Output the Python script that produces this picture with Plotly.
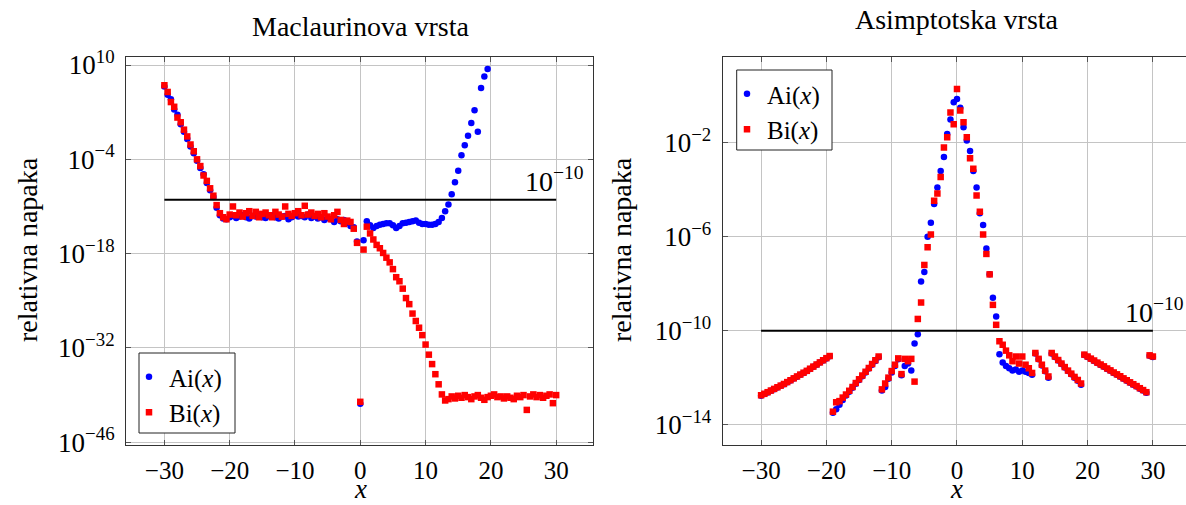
import numpy as np
import plotly.graph_objects as go

# shared sample grid (x from -30 to 30, step 0.5)
x_grid = np.linspace(-30, 30, 121)

# ---------- Maclaurinova vrsta : log10(relative error) ----------
mac_ai_log = [
    6.8, 5.6, 4.9, 3.4, 2.6, 1.2, 0.1, -1.0, -2.1, -3.1, -4.2, -5.3, -6.2, -7.5, -8.6, -9.6,
    -11.2, -12.3, -12.8, -12.9, -12.6, -12.4, -12.7, -12.5, -12.3, -12.6, -12.8, -12.4, -12.5,
    -12.2, -12.6, -12.7, -12.4, -12.3, -12.6, -12.8, -12.5, -12.4, -12.9, -12.6, -12.3, -12.5,
    -12.4, -12.6, -12.2, -12.7, -12.5, -12.8, -12.6, -13.0, -12.7, -12.9, -13.3, -12.9, -13.2,
    -13.0, -13.4, -13.9, -14.1, -16.2, -40.3, -16.0, -13.2, -13.8, -14.2, -13.9, -13.7,
    -13.6, -13.5, -13.5, -13.8, -14.2, -13.9, -13.5, -13.4, -13.3, -13.2, -13.1, -13.4, -13.6,
    -13.6, -13.7, -13.7, -13.6, -13.3,
    -12.7, -11.7, -10.7, -9.2, -7.4, -5.7, -3.4, -1.9, -0.5, 1.4, 3.3, 0.1, 6.6, 8.3, 9.4,
    None, None, None, None, None, None, None, None, None, None, None,
    None, None, None, None, None, None, None, None, None, None,
]
mac_bi_log = [
    7.0, 6.0, 4.5, 3.8, 2.2, 1.5, 0.4, -0.6, -1.8, -2.8, -4.0, -5.0, -6.4, -7.2, -8.3, -9.4,
    -10.8, -12.0, -12.6, -12.9, -12.2, -11.0, -12.3, -11.9, -12.5, -12.0, -11.7, -12.4, -11.8,
    -12.6, -12.1, -11.9, -12.3, -12.6, -11.8, -12.2, -12.5, -11.0, -12.1, -12.4, -12.0, -11.7,
    -12.3, -10.9, -12.2, -11.9, -12.4, -12.1, -12.6, -12.0, -12.5, -12.9, -12.3, -11.8, -13.0,
    -13.6, -13.1, -13.3, -14.3, -16.4, -40.0, -17.4, -14.0, -15.0, -15.9, -16.7, -17.2,
    -17.9, -18.6, -19.3, -20.3, -21.5, -22.1, -23.2, -24.6, -25.5, -26.9, -28.0, -29.0, -30.1,
    -31.5, -33.0, -34.4, -35.9, -37.4, -38.9, -39.8,
    -39.6, -39.2, -39.5, -39.1, -39.4, -39.0, -39.3, -39.6, -39.2, -39.0, -39.4, -39.7, -39.3,
    -39.1, -38.9, -39.3, -39.2, -39.5, -39.2, -39.4, -39.6, -39.1, -39.3, -39.0, -41.2, -39.2,
    -38.9, -39.3, -39.0, -39.4, -39.1, -38.9, -40.2, -39.0,
]

# ---------- Asimptotska vrsta : log10(relative error) ----------
asy_ai_log = [
    -12.77, -12.70, -12.63, -12.56, -12.49, -12.42, -12.35, -12.28, -12.20, -12.12, -12.04,
    -11.96, -11.88, -11.80, -11.72, -11.63, -11.54, -11.45, -11.36, -11.27, -11.18, -11.09,
    -13.50, -13.35, -13.15, -12.95, -12.76, -12.60, -12.43, -12.26, -12.10, -11.94, -11.78,
    -11.61, -11.45, -11.29, -11.13,
    -12.55, -12.40, -12.05, -11.78, -11.50, -11.22,
    -11.90, -11.50, -11.40, -11.70, -10.55,
    -10.15, -7.90, -7.50, -6.00, -5.40, -4.60, -3.90, -3.20, -2.60, -1.62, -1.00, -0.27, -0.13,
    -0.50, -1.33, -1.90, -2.35, -3.20, -3.90, -5.00, -5.50, -6.50, -7.60, -8.60, -9.40,
    -11.00, -11.35, -11.50, -11.60, -11.70, -11.65, -11.75, -11.70, -11.75, -11.80, -11.88,
    -10.97, -11.22, -11.48, -11.73, -12.00,
    -10.97, -11.12, -11.27, -11.42, -11.57, -11.72, -11.86, -12.00, -12.13, -12.30,
    -11.04, -11.12, -11.21, -11.29, -11.38, -11.46, -11.54, -11.63, -11.71, -11.80,
    -11.88, -11.96, -12.05, -12.13, -12.22, -12.30, -12.38, -12.47, -12.55, -12.64,
    -11.07, -11.12,
]
asy_bi_log = [
    -12.75, -12.69, -12.62, -12.55, -12.48, -12.41, -12.34, -12.27, -12.19, -12.11, -12.03,
    -11.95, -11.87, -11.79, -11.71, -11.62, -11.53, -11.44, -11.35, -11.26, -11.17, -11.08,
    -13.45, -13.05, -13.00, -12.85, -12.72, -12.56, -12.40, -12.23, -12.07, -11.91, -11.75,
    -11.59, -11.42, -11.26, -11.10,
    -12.50, -12.25, -12.00, -11.72, -11.45, -11.18,
    -11.85, -11.20, -11.30, -11.20, -12.17,
    -9.50, -8.80, -7.20, -6.45, -5.90, -4.46, -4.15, -3.45, -2.20, -1.76, -0.70, -1.20, 0.30,
    -0.62, -1.12, -1.76, -2.65, -3.10, -4.24, -4.93, -5.90, -6.73, -7.60, -8.90, -9.75,
    -10.45, -10.60, -10.85, -11.05, -11.30, -11.10, -11.40, -11.10, -11.45, -11.60, -11.80,
    -10.95, -11.20, -11.45, -11.70, -11.95,
    -10.95, -11.10, -11.25, -11.40, -11.55, -11.70, -11.83, -11.97, -12.10, -12.25,
    -11.02, -11.10, -11.19, -11.27, -11.36, -11.44, -11.52, -11.61, -11.69, -11.78,
    -11.86, -11.94, -12.03, -12.11, -12.20, -12.28, -12.36, -12.45, -12.53, -12.62,
    -11.05, -11.10,
]

# reference line 1e-10
tol_x = [-30, 30]
tol_y = [1e-10, 1e-10]

x_ticks = [-30, -20, -10, 0, 10, 20, 30]
x_ticktext = ["\u221230", "\u221220", "\u221210", "0", "10", "20", "30"]
mac_y_exps = [10, -4, -18, -32, -46]
asy_y_exps = [-2, -6, -10, -14]


def to_val(logs):
    return [None if v is None else 10.0 ** v for v in logs]


def sup(e):
    s = str(e).replace("-", "\u2212")
    return "10<sup>" + s + "</sup>"


FONT = "Liberation Serif"
BLUE = "#0000ff"
RED = "#ff0000"
GRID = "#c4c4c4"
TXT = 28
YTICK = 27
XTICK = 25
LEG = 25

W, H = 1186, 505
fig = go.Figure()

# left subplot
fig.add_trace(go.Scatter(x=x_grid, y=to_val(mac_ai_log), mode="markers", name="Ai(<i>x</i>)",
                         marker=dict(symbol="circle", size=6.5, color=BLUE),
                         xaxis="x", yaxis="y", legend="legend"))
fig.add_trace(go.Scatter(x=x_grid, y=to_val(mac_bi_log), mode="markers", name="Bi(<i>x</i>)",
                         marker=dict(symbol="square", size=6.5, color=RED),
                         xaxis="x", yaxis="y", legend="legend"))
fig.add_trace(go.Scatter(x=tol_x, y=tol_y, mode="lines", line=dict(color="black", width=2),
                         showlegend=False, xaxis="x", yaxis="y", hoverinfo="skip"))

# right subplot
fig.add_trace(go.Scatter(x=x_grid, y=to_val(asy_ai_log), mode="markers", name="Ai(<i>x</i>)",
                         marker=dict(symbol="circle", size=6.5, color=BLUE),
                         xaxis="x2", yaxis="y2", legend="legend2"))
fig.add_trace(go.Scatter(x=x_grid, y=to_val(asy_bi_log), mode="markers", name="Bi(<i>x</i>)",
                         marker=dict(symbol="square", size=6.5, color=RED),
                         xaxis="x2", yaxis="y2", legend="legend2"))
fig.add_trace(go.Scatter(x=tol_x, y=tol_y, mode="lines", line=dict(color="black", width=2),
                         showlegend=False, xaxis="x2", yaxis="y2", hoverinfo="skip"))

ydom = [1 - 445 / H, 1 - 57 / H]
common_x = dict(tickmode="array", tickvals=x_ticks, ticktext=x_ticktext, showgrid=True,
                gridcolor=GRID, gridwidth=1, zeroline=False, showline=True, linecolor="#333",
                linewidth=1, ticks="inside", ticklen=5, tickcolor="#555",
                tickfont=dict(family=FONT, size=XTICK, color="black"), automargin=False,
                ticklabelstandoff=3)
common_y = dict(type="log", tickmode="array", showgrid=True, gridcolor=GRID, gridwidth=1,
                zeroline=False, showline=True, linecolor="#333", linewidth=1, ticks="inside",
                ticklen=5, tickcolor="#555", tickfont=dict(family=FONT, size=YTICK, color="black"),
                automargin=False, ticklabelstandoff=5)

leg_common = dict(xanchor="left", yanchor="top", bgcolor="rgba(0,0,0,0)", borderwidth=0,
                  font=dict(family=FONT, size=LEG, color="black"), itemwidth=30, tracegroupgap=0)

fig.update_layout(
    width=W, height=H, margin=dict(l=0, r=0, t=0, b=0),
    paper_bgcolor="white", plot_bgcolor="white",
    xaxis=dict(domain=[126 / W, 593 / W], range=[-35.88, 35.64], anchor="y", mirror="ticks", **common_x),
    yaxis=dict(domain=ydom, range=[-46.41, 11.19], anchor="x", mirror="ticks",
               tickvals=[10.0 ** e for e in mac_y_exps], ticktext=[sup(e) for e in mac_y_exps], **common_y),
    xaxis2=dict(domain=[722.7 / W, 1.0], range=[-35.88, 35.07], anchor="y2", mirror="ticks", **common_x),
    yaxis2=dict(domain=ydom, range=[-14.87, 1.66], anchor="x2", mirror=False,
                tickvals=[10.0 ** e for e in asy_y_exps], ticktext=[sup(e) for e in asy_y_exps], **common_y),
    legend=dict(x=129 / W, y=1 - 354 / H, **leg_common),
    legend2=dict(x=727 / W, y=1 - 71 / H, **leg_common),
    showlegend=True,
)

# legend frames (white boxes with a thin border)
shapes = [
    dict(type="rect", xref="paper", yref="paper", x0=139 / W, x1=235 / W,
         y0=1 - 433 / H, y1=1 - 353 / H, fillcolor="white", line=dict(color="#222", width=1),
         layer="above"),
    dict(type="rect", xref="paper", yref="paper", x0=736.7 / W, x1=832 / W,
         y0=1 - 150 / H, y1=1 - 70 / H, fillcolor="white", line=dict(color="#222", width=1),
         layer="above"),
]

ann_font = dict(family=FONT, size=TXT, color="black")
annotations = [
    dict(text="Maclaurinova vrsta", x=360 / W, y=1 - 26 / H, xref="paper", yref="paper",
         showarrow=False, font=ann_font, xanchor="center", yanchor="middle"),
    dict(text="Asimptotska vrsta", x=957 / W, y=1 - 19 / H, xref="paper", yref="paper",
         showarrow=False, font=ann_font, xanchor="center", yanchor="middle"),
    dict(text="relativna napaka", x=27 / W, y=1 - 250 / H, xref="paper", yref="paper",
         showarrow=False, font=ann_font, textangle=-90, xanchor="center", yanchor="middle"),
    dict(text="relativna napaka", x=621 / W, y=1 - 250 / H, xref="paper", yref="paper",
         showarrow=False, font=ann_font, textangle=-90, xanchor="center", yanchor="middle"),
    dict(text="<i>x</i>", x=360 / W, y=1 - 489 / H, xref="paper", yref="paper",
         showarrow=False, font=dict(family=FONT, size=27, color="black"),
         xanchor="center", yanchor="middle"),
    dict(text="<i>x</i>", x=957 / W, y=1 - 489 / H, xref="paper", yref="paper",
         showarrow=False, font=dict(family=FONT, size=27, color="black"),
         xanchor="center", yanchor="middle"),
    dict(text=sup(-10), x=29.8, y=-10, xref="x", yref="y", showarrow=False, font=ann_font,
         xanchor="center", yanchor="bottom", yshift=1),
    dict(text=sup(-10), x=30.2, y=-10, xref="x2", yref="y2", showarrow=False, font=ann_font,
         xanchor="center", yanchor="bottom", yshift=1),
]
fig.update_layout(annotations=annotations, shapes=shapes)

fig.write_html("out.html", config={"displayModeBar": False},
               post_script="document.body.style.margin='0px';document.body.style.overflow='hidden';")
